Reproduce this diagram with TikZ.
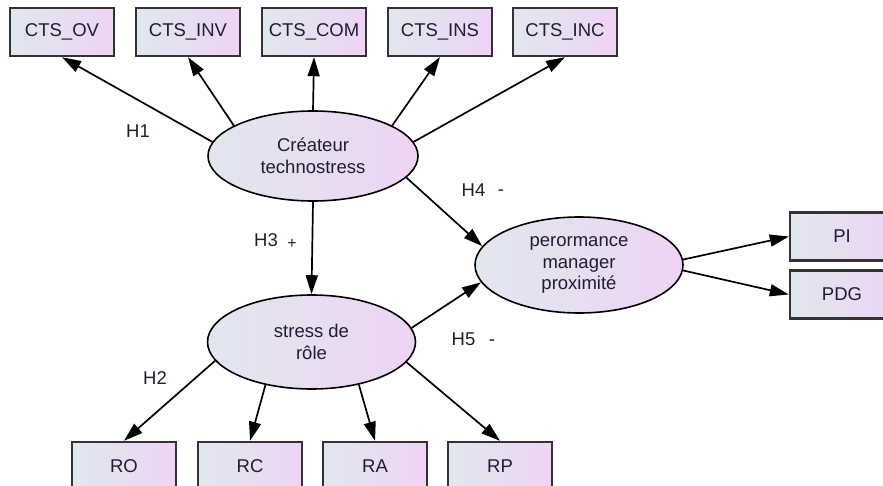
\documentclass[tikz,border=0pt]{standalone}
\usepackage{fontspec}
\setmainfont{Liberation Sans}
\usetikzlibrary{arrows.meta,shapes.geometric}
\definecolor{gl}{HTML}{E1E7EE}
\definecolor{gr}{HTML}{EED4F3}
\definecolor{txt}{HTML}{1E1E30}
\begin{document}
\begin{tikzpicture}[x=1pt,y=-1pt,
  every node/.style={font=\fontsize{18.5}{21.5}\selectfont, text=txt},
  obsbox/.style={draw=black!80, line width=2.4pt, left color=gl, right color=gr,
    minimum width=104pt, minimum height=48pt, inner sep=0pt},
  latent/.style={ellipse, draw=black, line width=1.6pt, left color=gl, right color=gr,
    inner sep=0pt, align=center},
  arr/.style={-{Triangle[length=19pt,width=12pt]}, line width=1.7pt, black},
  hlab/.style={inner sep=0pt, anchor=base}]
\clip (0,0) rectangle (883,486);
\fill[white] (0,0) rectangle (883,486);
% top observed
\node[obsbox] (ov)  at (62,32)  {CTS\_OV};
\node[obsbox] (inv) at (188,32) {CTS\_INV};
\node[obsbox] (com) at (314,32) {CTS\_COM};
\node[obsbox] (ins) at (440,32) {CTS\_INS};
\node[obsbox] (inc) at (565,32) {CTS\_INC};
% right observed
\node[obsbox] (pi)  at (842,236.5) {PI};
\node[obsbox] (pdg) at (842,294.5) {PDG};
% bottom observed
\node[obsbox] (ro) at (124,466) {RO};
\node[obsbox] (rc) at (250,466) {RC};
\node[obsbox] (ra) at (375,466) {RA};
\node[obsbox] (rp) at (500,466) {RP};
% latent
\node[latent, minimum width=210pt, minimum height=90pt] (cre) at (313,156) {Créateur\\technostress};
\node[latent, minimum width=208pt, minimum height=94pt] (str) at (311.5,342) {stress de\\rôle};
\node[latent, minimum width=208pt, minimum height=96pt] (perf) at (579,265) {perormance\\manager\\proximité};
% arrows
\draw[arr] (cre.172) -- (ov.south);
\draw[arr] (cre.159) -- (inv.south);
\draw[arr] (cre.90) -- (com.south);
\draw[arr] (cre.21) -- (ins.south);
\draw[arr] (cre.8) -- (inc.south);
\draw[arr] (cre.270) -- (str.90);
\draw[arr] (cre.-13) -- (perf.169);
\draw[arr] (str.8.5) -- (perf.190);
\draw[arr] (perf.3) -- (pi.west);
\draw[arr] (perf.-3.7) -- (pdg.west);
\draw[arr] (str.191.5) -- (ro.north);
\draw[arr] (str.223) -- (rc.north);
\draw[arr] (str.-42) -- (ra.north);
\draw[arr] (str.-12) -- (rp.north);
% labels
\node[hlab] (h1) at (138,138) {H1};
\node[hlab] (h2) at (155,384) {H2};
\node[hlab] (h3) at (266,247) {H3};
\node[hlab, font=\fontsize{16}{18}\selectfont] (h3s) at (292,249) {+};
\node[hlab] (h4) at (473.5,197) {H4};
\node[hlab] (h4s) at (501,196) {-};
\node[hlab] (h5) at (463.5,345) {H5};
\node[hlab] (h5s) at (492,345) {-};
\end{tikzpicture}
\end{document}
